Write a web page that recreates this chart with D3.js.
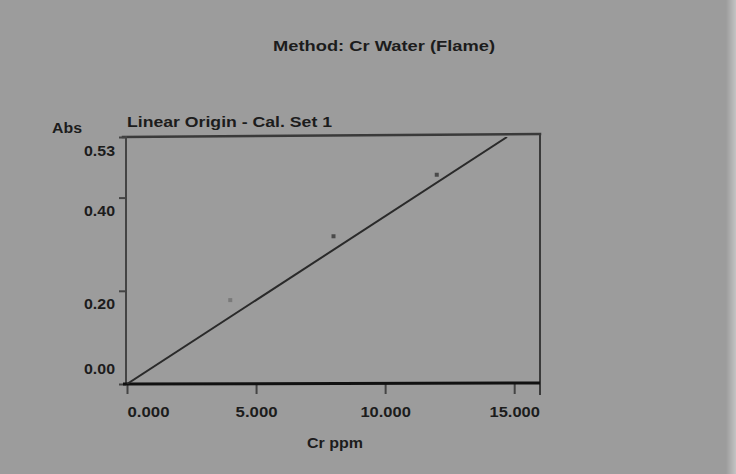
<!DOCTYPE html>
<html>
<head>
<meta charset="utf-8">
<script src="https://cdn.jsdelivr.net/npm/d3@7"></script>
<style>
  html, body { margin: 0; padding: 0; background: #9c9c9c; }
  svg { display: block; }
  text { font-family: "Liberation Sans Narrow", "Liberation Sans", Arial, sans-serif; fill: #1c1c1c; font-weight: bold; }
</style>
</head>
<body>
<svg id="chart" width="736" height="474"></svg>
<script>
// Calibration standards (concentration in ppm, measured absorbance)
const stdConc = [4, 8, 12];
const stdAbs = [0.18, 0.317, 0.449];
// Slope of the linear-through-origin calibration (Abs per ppm)
const calSlope = 0.036;

const xTicks = [0, 5, 10, 15];
const xTickLabels = ["0.000", "5.000", "10.000", "15.000"];
const yTicks = [0, 0.2, 0.4, 0.53];
const yTickLabels = ["0.00", "0.20", "0.40", "0.53"];

const titleText = "Method: Cr Water (Flame)";
const subtitleText = "Linear Origin - Cal. Set 1";
const yLabelText = "Abs";
const xLabelText = "Cr ppm";

const W = 736, H = 474;
const plot = { left: 126, right: 540, top: 137, bottom: 384 };
const FONT = "Liberation Sans Narrow, Liberation Sans, Arial, sans-serif";

const svg = d3.select("#chart");

// Page background with slightly lighter right margin
svg.append("rect").attr("width", W).attr("height", H).attr("fill", "#9c9c9c");
const grad = svg.append("defs").append("linearGradient").attr("id", "edge");
grad.append("stop").attr("offset", "0%").attr("stop-color", "#9c9c9c");
grad.append("stop").attr("offset", "100%").attr("stop-color", "#c4c4c4");
svg.append("rect").attr("x", 726).attr("y", 0).attr("width", 10).attr("height", H).attr("fill", "url(#edge)");

const x = d3.scaleLinear().domain([0, 16]).range([plot.left + 1, plot.right]);
const y = d3.scaleLinear().domain([0, 0.53]).range([plot.bottom, plot.top]);

// Titles
svg.append("text").attr("x", 384).attr("y", 51).attr("text-anchor", "middle")
  .attr("font-size", 15).attr("textLength", 222).attr("lengthAdjust", "spacingAndGlyphs")
  .text(titleText);
svg.append("text").attr("x", 127).attr("y", 127)
  .attr("font-size", 15).attr("textLength", 205).attr("lengthAdjust", "spacingAndGlyphs")
  .text(subtitleText);
svg.append("text").attr("x", 52).attr("y", 133)
  .attr("font-size", 14).attr("textLength", 30).attr("lengthAdjust", "spacingAndGlyphs")
  .text(yLabelText);
svg.append("text").attr("x", 335).attr("y", 448).attr("text-anchor", "middle")
  .attr("font-size", 15).attr("textLength", 56).attr("lengthAdjust", "spacingAndGlyphs")
  .text(xLabelText);

// Plot frame
const frame = svg.append("g").attr("stroke-linecap", "square").attr("fill", "none");
frame.append("line").attr("x1", plot.left - 3).attr("x2", plot.right).attr("y1", plot.top).attr("y2", plot.top - 3)
  .attr("stroke", "#3a3a3a").attr("stroke-width", 2.5);
frame.append("line").attr("x1", plot.right).attr("x2", plot.right).attr("y1", plot.top - 3).attr("y2", plot.bottom + 10)
  .attr("stroke", "#3a3a3a").attr("stroke-width", 2);
frame.append("line").attr("x1", plot.left).attr("x2", plot.left).attr("y1", plot.top).attr("y2", plot.bottom)
  .attr("stroke", "#444").attr("stroke-width", 2);

// Y axis
const yAxis = svg.append("g").attr("transform", `translate(${plot.left},0)`)
  .call(d3.axisLeft(y).tickValues(yTicks).tickSize(7).tickPadding(4)
    .tickFormat((d, i) => yTickLabels[i]));
yAxis.select(".domain").remove();
yAxis.selectAll(".tick line").attr("stroke", "#444").attr("stroke-width", 2);
yAxis.selectAll(".tick text")
  .attr("font-size", 14).attr("font-family", FONT)
  .attr("fill", "#1c1c1c").attr("font-weight", "bold")
  .attr("textLength", 31).attr("lengthAdjust", "spacingAndGlyphs")
  .attr("dy", d => d === 0 ? "-0.75em" : "1.3em");

// X axis
const xAxis = svg.append("g").attr("transform", `translate(0,${plot.bottom})`)
  .call(d3.axisBottom(x).tickValues(xTicks).tickSize(10).tickPadding(13)
    .tickFormat((d, i) => xTickLabels[i]));
xAxis.select(".domain").remove();
xAxis.selectAll(".tick line").attr("stroke", "#444").attr("stroke-width", 2);
xAxis.selectAll(".tick text")
  .attr("font-size", 14).attr("font-family", FONT)
  .attr("fill", "#1c1c1c").attr("font-weight", "bold")
  .attr("lengthAdjust", "spacingAndGlyphs")
  .attr("textLength", (d, i) => xTickLabels[i].length * 8.4)
  .attr("text-anchor", d => d === 0 ? "start" : "middle");
svg.append("line").attr("x1", plot.left - 3).attr("x2", plot.right).attr("y1", plot.bottom).attr("y2", plot.bottom - 1)
  .attr("stroke", "#111").attr("stroke-width", 3);

// Calibration line through origin, clipped to the frame
svg.append("clipPath").attr("id", "plotClip").append("rect")
  .attr("x", plot.left).attr("y", plot.top).attr("width", plot.right - plot.left).attr("height", plot.bottom - plot.top);
const xEnd = 0.53 / calSlope;
svg.append("line").attr("clip-path", "url(#plotClip)")
  .attr("x1", x(0)).attr("y1", y(0)).attr("x2", x(xEnd)).attr("y2", y(calSlope * xEnd))
  .attr("stroke", "#2a2a2a").attr("stroke-width", 2);

// Standard points
svg.append("g").selectAll("rect").data(stdConc).join("rect")
  .attr("x", d => x(d) - 2).attr("y", (d, i) => y(stdAbs[i]) - 2)
  .attr("width", 4).attr("height", 4)
  .attr("fill", (d, i) => i === 0 ? "#7a7a7a" : "#4a4a4a");
</script>
</body>
</html>
